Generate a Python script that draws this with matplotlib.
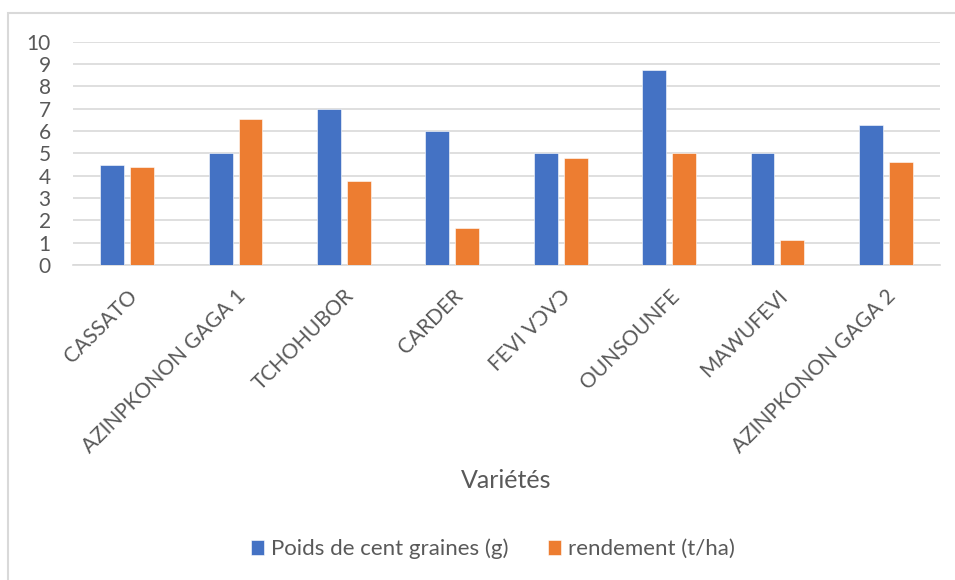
import matplotlib.pyplot as plt
import numpy as np
from matplotlib.patches import Rectangle

plt.rcParams['font.family'] = ['Lato', 'DejaVu Sans']

varietes = ['CASSATO', 'AZINPKONON GAGA 1', 'TCHOHUBOR', 'CARDER', 'FEVI VƆVƆ',
            'OUNSOUNFE', 'MAWUFEVI', 'AZINPKONON GAGA 2']
poids = [4.5, 5.0, 7.0, 6.0, 5.0, 8.75, 5.0, 6.25]
rendement = [4.37, 6.55, 3.75, 1.64, 4.78, 5.0, 1.12, 4.62]

gris = '#595959'
fig = plt.figure(figsize=(9.55, 5.8), dpi=100)
ax = fig.add_axes([73/955, 1-265/580, (940-73)/955, (265-41.7)/580])

x = np.arange(len(varietes))
w = 0.221
d = 0.138
ax.bar(x - d, poids, w, color='#4472C4', edgecolor='white', linewidth=0.4,
       label='Poids de cent graines (g)', zorder=3)
ax.bar(x + d, rendement, w, color='#ED7D31', edgecolor='white', linewidth=0.4,
       label='rendement (t/ha)', zorder=3)

ax.set_xlim(-0.5, len(varietes) - 0.5)
ax.set_ylim(0, 10)
ax.set_yticks(range(0, 11))
ax.yaxis.grid(True, color='#d9d9d9', linewidth=1.2, zorder=0)
for s in ['top', 'right', 'left']:
    ax.spines[s].set_visible(False)
ax.spines['bottom'].set_color('#d9d9d9')
ax.spines['bottom'].set_linewidth(1.2)
ax.tick_params(axis='both', length=0, colors=gris)
ax.tick_params(axis='y', pad=16, labelsize=15)
ax.set_xticks(x)
ax.set_xticklabels(varietes, rotation=45, ha='right', rotation_mode='anchor', fontsize=15)
ax.tick_params(axis='x', pad=15)

fig.text(506/955, 1-480/580, 'Variétés', ha='center', va='center', color=gris, fontsize=18)

leg = fig.legend(loc='center', bbox_to_anchor=(0.516, 1-549/580), ncol=2, frameon=False,
                 fontsize=16, handlelength=0.6, handleheight=0.6, columnspacing=1.8,
                 handletextpad=0.3)
for t in leg.get_texts():
    t.set_color(gris)

fig.patches.append(Rectangle((8/955, -0.1), 1.1, 1.1-13/580, transform=fig.transFigure,
                             fill=False, edgecolor='#d9d9d9', linewidth=1.5))

fig.savefig('out.png', dpi=100)
